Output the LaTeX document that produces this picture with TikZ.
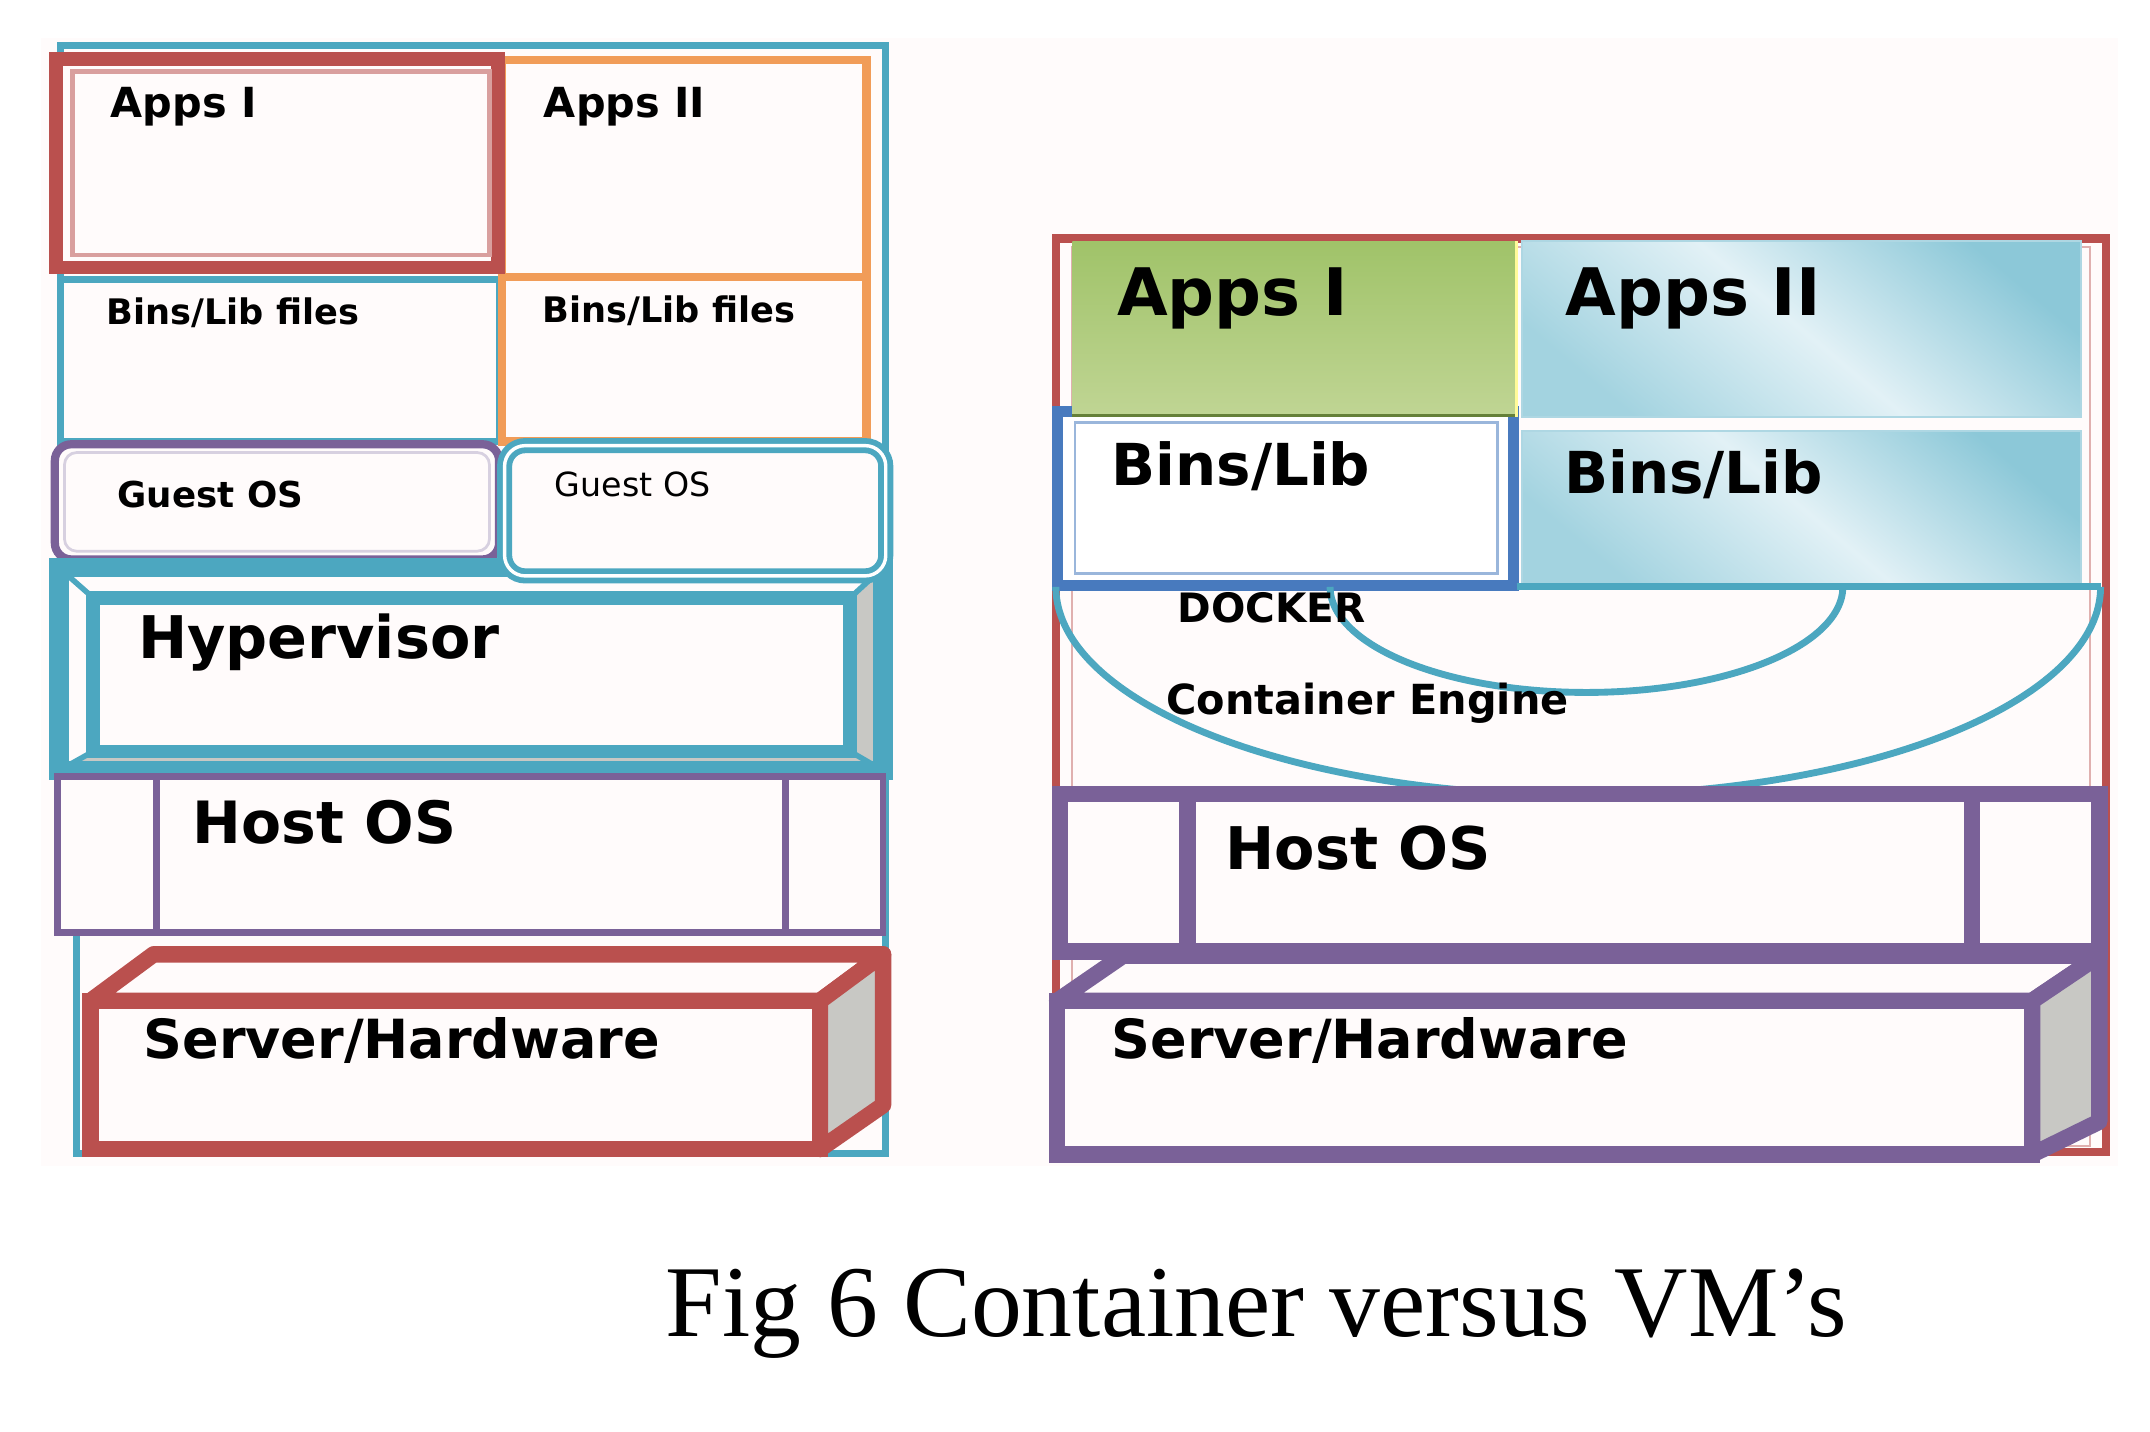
\documentclass[tikz,border=0pt]{standalone}
\usepackage{fontspec}
\setmainfont{Liberation Serif}
\newfontfamily\labfont{DejaVu Sans}
\newcommand\lfs[1]{\fontsize{#1}{#1}\selectfont}
\definecolor{tealc}{RGB}{76,167,192}
\definecolor{redc}{RGB}{186,80,78}
\definecolor{orangec}{RGB}{241,156,88}
\definecolor{purplec}{RGB}{122,97,152}
\definecolor{bluec}{RGB}{72,122,190}
\definecolor{greyc}{RGB}{200,200,196}
\definecolor{bgc}{RGB}{255,251,251}
\definecolor{greenT}{RGB}{160,195,105}
\definecolor{greenM}{RGB}{145,182,82}
\definecolor{greenB}{RGB}{192,213,148}
\definecolor{cyanD}{RGB}{140,200,216}
\definecolor{cyanL}{RGB}{226,241,246}
\tikzset{
  txt/.style={inner sep=0pt, anchor=base west, text=black},
  bl/.style={txt, font=\labfont\bfseries\lfs{#1}},
  rg/.style={txt, font=\labfont\lfs{#1}},
  cyanfill/.style={top color=cyanD, bottom color=cyanD!80!white, middle color=cyanL, shading angle=-40},
  face/.style={line width=1.2mm, line join=round},
}
\begin{document}
\begin{tikzpicture}[x=0.1mm, y=-0.1mm, line join=miter]
\useasboundingbox (0,0) rectangle (1568,1044);
\fill[white] (0,0) rectangle (1568,1044);
\fill[bgc] (30,28) rectangle (1545,850);

% ================= LEFT: VM stack =================
\draw[tealc, line width=0.5mm] (44,566) -- (44,33) -- (646,33) -- (646,841) -- (56,841) -- (56,680);
% Bins/Lib left
\draw[tealc, line width=0.5mm] (44,204) rectangle (364,322);
% Apps II and Bins/Lib right (orange)
\draw[orangec, line width=0.6mm] (366,44) rectangle (632,202);
\draw[orangec, line width=0.6mm] (366,202) rectangle (632,322);
% Apps I (red, double)
\draw[redc, line width=1mm, fill=bgc] (41,43) rectangle (363,195);
\draw[redc!55, line width=0.35mm] (53,52) rectangle (357,186);
% Guest OS left (purple rounded)
\draw[purplec, line width=0.6mm, rounded corners=1.2mm, fill=bgc] (40,324) rectangle (364,408);
\draw[purplec!30, line width=0.2mm, rounded corners=0.9mm] (47,330) rectangle (357,402);
% Hypervisor bevel frame
\fill[bgc] (43,414) rectangle (644,562);
\fill[greyc] (43,562) -- (644,562) -- (620,548) -- (68,548) -- cycle;
\fill[greyc] (644,414) -- (644,562) -- (620,548) -- (620,436) -- cycle;
\draw[tealc, line width=0.4mm] (43,414) -- (68,436) (644,414) -- (620,436) (43,562) -- (68,548) (644,562) -- (620,548);
\draw[tealc, line width=1.4mm] (43,414) rectangle (644,562);
% Guest OS right (teal rounded, double)
\draw[tealc, line width=1.1mm, rounded corners=1.5mm, fill=bgc] (368,325) rectangle (646,420);
\draw[white, line width=0.25mm, rounded corners=1.5mm] (368,325) rectangle (646,420);
% Hypervisor inner box
\draw[tealc, line width=1mm, fill=bgc] (68,436) rectangle (620,548);
% Host OS left
\draw[purplec, line width=0.5mm, fill=bgc] (42,566) rectangle (644,680);
\draw[purplec, line width=0.5mm] (114,566) -- (114,680) (573,566) -- (573,680);
% Server/Hardware left (red 3D box)
\draw[redc, face, fill=bgc] (66,730) -- (112,696) -- (644,696) -- (598,730) -- cycle;
\draw[redc, face, fill=greyc] (598,730) -- (644,696) -- (644,806) -- (598,838) -- cycle;
\draw[redc, line width=1.2mm, fill=bgc] (66,730) rectangle (598,838);

% ================= RIGHT: container stack =================
\draw[redc, line width=0.6mm, fill=bgc] (770,174) rectangle (1536,840);
\draw[redc!45, line width=0.15mm] (782,180) rectangle (1524,836);
% Bins/Lib left (blue)
\draw[bluec, line width=0.8mm, fill=white] (771,300) rectangle (1104,427);
\draw[bluec!55, line width=0.2mm] (784,308) rectangle (1092,418);
% Apps I (green)
\shade[top color=greenT, middle color=greenM, bottom color=greenB] (782,176) rectangle (1106,304);
\draw[greenM!70!black, line width=0.25mm] (782,303) -- (1106,303);
\draw[yellow!40, line width=0.15mm] (1106,176) -- (1106,304);
% Apps II and Bins/Lib right (cyan gradient)
\shade[cyanfill] (1110,176) rectangle (1518,304);
\draw[tealc!45, line width=0.15mm] (1110,176) rectangle (1518,304);
\shade[cyanfill] (1110,314) rectangle (1518,426);
\draw[tealc!45, line width=0.15mm] (1110,314) rectangle (1518,426);
% Docker / container engine arcs
\draw[tealc, line width=0.5mm] plot[domain=180:360, samples=80, smooth] ({1151+381*cos(\x)}, {428-152*sin(\x)});
\draw[tealc, line width=0.5mm] plot[domain=180:360, samples=60, smooth] ({1157+187*cos(\x)}, {428-77*sin(\x)});
\draw[tealc, line width=0.5mm] (1106,428) -- (1532,428);
% Host OS right
\draw[purplec, line width=1.2mm, fill=bgc] (773,579) rectangle (1531,694);
\draw[purplec, line width=1.2mm] (866,579) -- (866,694) (1438,579) -- (1438,694);
% Server/Hardware right (purple 3D box)
\draw[purplec, face, fill=bgc] (771,730) -- (819,697) -- (1531,697) -- (1482,730) -- cycle;
\draw[purplec, face, fill=greyc] (1482,730) -- (1531,697) -- (1531,818) -- (1482,842) -- cycle;
\draw[purplec, line width=1.2mm, fill=bgc] (771,730) rectangle (1482,842);

% ================= Texts =================
\node[bl=8.6] (lapps1) at (80,86) {Apps I};
\node[bl=8.6] (lapps2) at (396,86) {Apps II};
\node[bl=7.3] (lbins1) at (77,237) {Bins/Lib files};
\node[bl=7.3] (lbins2) at (395,235) {Bins/Lib files};
\node[bl=7.4] (lguest1) at (85,370) {Guest OS};
\node[rg=6.9] (lguest2) at (404,362) {Guest OS};
\node[bl=12.2] (lhyp) at (100,480) {Hypervisor};
\node[bl=12.1] (lhost) at (140,615) {Host OS};
\node[bl=11.2] (lserver) at (104,772) {Server/Hardware};

\node[bl=13.6] (rapps1) at (814,230) {Apps I};
\node[bl=13.6] (rapps2) at (1141,230) {Apps II};
\node[bl=12] (rbins1) at (810,354) {Bins/Lib};
\node[bl=12] (rbins2) at (1140,360) {Bins/Lib};
\node[bl=8.4] (rdocker) at (858,454) {DOCKER};
\node[bl=8.6] (rengine) at (850,521) {Container Engine};
\node[bl=12.2] (rhost) at (893,634) {Host OS};
\node[bl=11.2] (rserver) at (810,772) {Server/Hardware};

\node[txt, font=\lfs{21.1}] (caption) at (485,975) {Fig 6 Container versus VM’s};
\end{tikzpicture}
\end{document}
